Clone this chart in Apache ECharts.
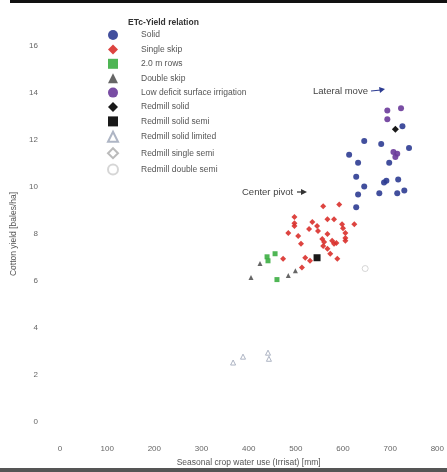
<!DOCTYPE html>
<html>
<head>
<meta charset="utf-8">
<script src="https://cdn.jsdelivr.net/npm/echarts@6/dist/echarts.min.js"></script>
<style>
  html, body { margin: 0; padding: 0; background: #fff; }
  #chart { width: 447px; height: 472px; }
</style>
</head>
<body>
<div id="chart"></div>
<script>
// Seasonal crop water use [mm] vs cotton yield [bales/ha], one array per treatment
var solid = [[645,11.96],[681,11.83],[726,12.59],[740,11.66],[613,11.37],[632,11.03],[698,11.03],
  [628,10.44],[692,10.27],[687,10.19],[717,10.32],[645,10.02],[632,9.68],[677,9.73],[715,9.73],
  [730,9.85],[628,9.14]];
var singleSkip = [[592,9.26],[558,9.18],[497,8.72],[497,8.46],[497,8.34],[567,8.63],[581,8.63],
  [535,8.51],[545,8.34],[547,8.13],[598,8.42],[624,8.42],[528,8.21],[600,8.25],[605,8.04],
  [605,7.83],[605,7.71],[484,8.04],[505,7.92],[567,8.00],[556,7.79],[560,7.66],[577,7.71],
  [586,7.62],[581,7.58],[511,7.58],[558,7.49],[567,7.37],[573,7.16],[520,6.99],[530,6.86],
  [588,6.95],[473,6.95],[513,6.57]];
var rows2m = [[439,7.03],[456,7.16],[441,6.86],[460,6.06]];
var doubleSkip = [[424,6.74],[405,6.15],[484,6.23],[499,6.44]];
var lowDeficit = [[694,13.26],[723,13.35],[694,12.88],[707,11.49],[715,11.41],[711,11.28]];
var redmillSolid = [[711,12.46]];
var redmillSolidSemi = [[545,6.99]];
var redmillSolidLimited = [[388,2.78],[367,2.53],[441,2.95],[443,2.69]];
var redmillSingleSemi = [];
var redmillDoubleSemi = [[647,6.53]];

var xTicks = { min: 0, max: 800, interval: 100 };
var yTicks = { min: 0, max: 16, interval: 2 };

var font = 'Liberation Sans, Arial, sans-serif';

function scatter(name, data, symbol, size, color, border) {
  return {
    name: name,
    type: 'scatter',
    data: data,
    symbol: symbol,
    symbolSize: size,
    itemStyle: border
      ? { color: '#ffffff', borderColor: border, borderWidth: 1 }
      : { color: color, opacity: 0.9 }
  };
}

var chart = echarts.init(document.getElementById('chart'));
chart.setOption({
  backgroundColor: '#ffffff',
  animation: false,
  textStyle: { fontFamily: font },
  grid: { left: 60, right: 7, top: 46, bottom: 46 },
  xAxis: {
    type: 'value',
    min: xTicks.min, max: xTicks.max, interval: xTicks.interval,
    name: 'Seasonal crop water use (Irrisat) [mm]',
    nameLocation: 'middle', nameGap: 36,
    nameTextStyle: { fontSize: 8.5, color: '#555', fontFamily: font },
    axisLine: { show: false }, axisTick: { show: false }, splitLine: { show: false },
    axisLabel: { fontSize: 8, color: '#666', margin: 23, fontFamily: font }
  },
  yAxis: {
    type: 'value',
    min: yTicks.min, max: yTicks.max, interval: yTicks.interval,
    name: 'Cotton yield [bales/ha]',
    nameLocation: 'middle', nameGap: 42,
    nameTextStyle: { fontSize: 8.5, color: '#555', fontFamily: font },
    axisLine: { show: false }, axisTick: { show: false }, splitLine: { show: false },
    axisLabel: { fontSize: 8, color: '#666', margin: 22, fontFamily: font }
  },
  legend: {
    orient: 'vertical',
    left: 102, top: 25,
    itemWidth: 10, itemHeight: 10, itemGap: 4.4,
    textStyle: { fontSize: 8.5, color: '#555', fontFamily: font, padding: [0, 0, 0, 18] }
  },
  graphic: [
    { type: 'rect', shape: { x: 10, y: 0, width: 437, height: 3 }, style: { fill: '#111' } },
    { type: 'rect', shape: { x: 0, y: 468, width: 447, height: 4 }, style: { fill: '#555' } },
    { type: 'text', left: 128, top: 18,
      style: { text: 'ETc-Yield relation', fontSize: 8.5, fontWeight: 'bold', fill: '#333', fontFamily: font } },
    { type: 'text', left: 313, top: 86,
      style: { text: 'Lateral move', fontSize: 9.5, fill: '#444', fontFamily: font } },
    { type: 'line', shape: { x1: 371, y1: 91, x2: 381, y2: 90 }, style: { stroke: '#2d3c92', lineWidth: 1.2 } },
    { type: 'polygon', shape: { points: [[385, 89], [379, 87], [380, 93]] }, style: { fill: '#2d3c92' } },
    { type: 'text', left: 242, top: 187,
      style: { text: 'Center pivot', fontSize: 9.5, fill: '#444', fontFamily: font } },
    { type: 'line', shape: { x1: 297, y1: 192, x2: 303, y2: 192 }, style: { stroke: '#333', lineWidth: 1.2 } },
    { type: 'polygon', shape: { points: [[307, 192], [301, 189], [301, 195]] }, style: { fill: '#333' } }
  ],
  series: [
    scatter('Solid', solid, 'circle', 6, '#2d3c92'),
    scatter('Single skip', singleSkip, 'diamond', 6, '#d9302b'),
    scatter('2.0 m rows', rows2m, 'rect', 5, '#3cae43'),
    scatter('Double skip', doubleSkip, 'triangle', 5, '#555555'),
    scatter('Low deficit surface irrigation', lowDeficit, 'circle', 6, '#6a3a9a'),
    scatter('Redmill solid', redmillSolid, 'diamond', 7, '#000000'),
    scatter('Redmill solid semi', redmillSolidSemi, 'rect', 7, '#000000'),
    scatter('Redmill solid limited', redmillSolidLimited, 'triangle', 5, null, '#9aa3b5'),
    scatter('Redmill single semi', redmillSingleSemi, 'diamond', 6, null, '#aaaaaa'),
    scatter('Redmill double semi', redmillDoubleSemi, 'circle', 6, null, '#cccccc')
  ]
});
</script>
</body>
</html>
